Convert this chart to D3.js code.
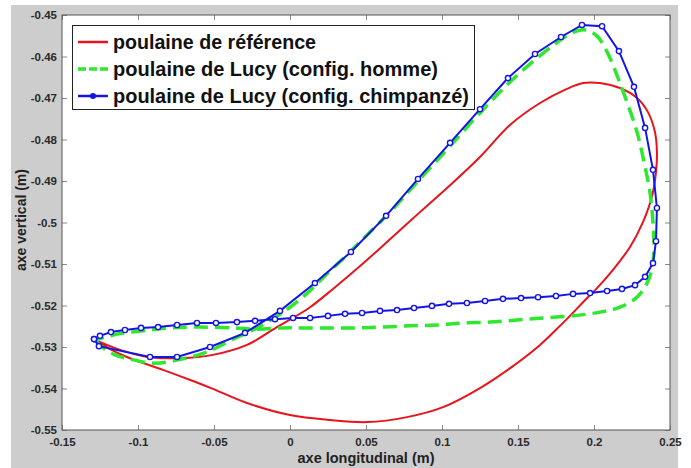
<!DOCTYPE html>
<html><head><meta charset="utf-8">
<script src="https://cdn.jsdelivr.net/npm/d3@7"></script>
<style>body{margin:0;background:#fff}svg{display:block}</style>
</head><body>
<svg id="c" width="691" height="468"></svg>
<script>
const seriesNames = ["poulaine de référence","poulaine de Lucy (config. homme)","poulaine de Lucy (config. chimpanzé)"];
const xTicks = [-0.15,-0.1,-0.05,0,0.05,0.1,0.15,0.2,0.25];
const xTickLabels = ["-0.15","-0.1","-0.05","0","0.05","0.1","0.15","0.2","0.25"];
const yTicks = [-0.45,-0.46,-0.47,-0.48,-0.49,-0.5,-0.51,-0.52,-0.53,-0.54,-0.55];
const yTickLabels = ["-0.45","-0.46","-0.47","-0.48","-0.49","-0.5","-0.51","-0.52","-0.53","-0.54","-0.55"];
const xLabel = "axe longitudinal (m)";
const yLabel = "axe vertical (m)";

// reference trajectory
const refX = [-0.1283,-0.1184,-0.1053,-0.0836,-0.0638,-0.0507,-0.0283,0.0,0.0263,0.0507,0.0770,0.1007,0.1250,0.1467,0.1645,0.1743,0.1842,0.1928,0.2020,0.2125,0.2237,0.2322,0.2382,0.2408,0.2414,0.2401,0.2355,0.2283,0.2171,0.2039,0.1928,0.1822,0.1645,0.1447,0.1250,0.1053,0.0855,0.0638,0.0461,0.0283,0.0125,-0.0086,-0.0283,-0.0507,-0.0724,-0.0941,-0.1118,-0.1283];
const refY = [-0.5283,-0.5305,-0.5327,-0.5355,-0.5382,-0.5401,-0.5435,-0.5464,-0.5476,-0.5481,-0.5469,-0.5445,-0.5399,-0.5346,-0.5295,-0.5261,-0.5225,-0.5192,-0.5158,-0.5114,-0.5059,-0.4999,-0.4936,-0.4878,-0.4830,-0.4782,-0.4734,-0.4700,-0.4676,-0.4664,-0.4664,-0.4678,-0.4712,-0.4765,-0.4842,-0.4910,-0.4975,-0.5047,-0.5105,-0.5160,-0.5206,-0.5252,-0.5295,-0.5319,-0.5327,-0.5324,-0.5307,-0.5283];

// Lucy, human configuration
const homX = [-0.1283,-0.1230,-0.1151,-0.1053,-0.0888,-0.0711,-0.0546,-0.0375,-0.0217,-0.0046,0.0099,0.0243,0.0375,0.0507,0.0658,0.0789,0.0921,0.1053,0.1250,0.1434,0.1612,0.1743,0.1855,0.1941,0.2020,0.2086,0.2151,0.2217,0.2283,0.2329,0.2368,0.2388,0.2395,0.2382,0.2349,0.2283,0.2171,0.2039,0.1855,0.1664,0.1493,0.1316,0.1138,0.0967,0.0789,0.0612,0.0441,0.0263,0.0086,-0.0046,-0.0217,-0.0375,-0.0592,-0.0789,-0.0967,-0.1138,-0.1230,-0.1283];
const homY = [-0.5283,-0.5302,-0.5319,-0.5329,-0.5339,-0.5329,-0.5312,-0.5281,-0.5254,-0.5216,-0.5175,-0.5124,-0.5078,-0.5030,-0.4975,-0.4922,-0.4869,-0.4816,-0.4736,-0.4666,-0.4608,-0.4570,-0.4543,-0.4536,-0.4551,-0.4589,-0.4645,-0.4710,-0.4782,-0.4854,-0.4927,-0.4999,-0.5061,-0.5110,-0.5146,-0.5180,-0.5204,-0.5216,-0.5225,-0.5230,-0.5235,-0.5240,-0.5242,-0.5247,-0.5249,-0.5252,-0.5254,-0.5254,-0.5254,-0.5254,-0.5257,-0.5254,-0.5252,-0.5254,-0.5261,-0.5269,-0.5278,-0.5283];

// Lucy, chimpanzee configuration
const chiX = [-0.1289,-0.1257,-0.0921,-0.0743,-0.0526,-0.0296,-0.0066,0.0164,0.0401,0.0632,0.0842,0.1053,0.1250,0.1434,0.1612,0.1783,0.1921,0.2053,0.2164,0.2263,0.2336,0.2388,0.2414,0.2408,0.2388,0.2336,0.2270,0.2184,0.2086,0.1974,0.1862,0.1750,0.1632,0.1520,0.1401,0.1283,0.1164,0.1046,0.0934,0.0816,0.0704,0.0592,0.0474,0.0362,0.0250,0.0132,0.0020,-0.0099,-0.0230,-0.0349,-0.0487,-0.0612,-0.0743,-0.0868,-0.0980,-0.1086,-0.1178,-0.1250,-0.1289];
const chiY = [-0.5281,-0.5298,-0.5324,-0.5324,-0.5300,-0.5266,-0.5213,-0.5146,-0.5071,-0.4984,-0.4895,-0.4808,-0.4727,-0.4652,-0.4594,-0.4553,-0.4524,-0.4527,-0.4587,-0.4673,-0.4772,-0.4873,-0.4965,-0.5045,-0.5098,-0.5131,-0.5151,-0.5160,-0.5165,-0.5170,-0.5172,-0.5177,-0.5180,-0.5182,-0.5184,-0.5189,-0.5194,-0.5196,-0.5201,-0.5206,-0.5211,-0.5213,-0.5218,-0.5220,-0.5225,-0.5230,-0.5230,-0.5233,-0.5237,-0.5240,-0.5242,-0.5242,-0.5247,-0.5252,-0.5254,-0.5259,-0.5264,-0.5273,-0.5281];

const colors = {red:"#e8141c", green:"#2ee82e", blue:"#1414e6"};
const svg = d3.select("#c");
const L=62,R=670,T=15,B=430;
const x = d3.scaleLinear().domain([-0.15,0.25]).range([L,R]);
const y = d3.scaleLinear().domain([-0.55,-0.45]).range([B,T]);

svg.append("rect").attr("x",11).attr("y",5).attr("width",667).attr("height",463).attr("fill","#cdcdcd");
svg.append("rect").attr("x",L).attr("y",T).attr("width",R-L).attr("height",B-T).attr("fill","#fff");

const fmtX = d => xTickLabels[xTicks.indexOf(d)];
const fmtY = d => yTickLabels[yTicks.indexOf(d)];
const font = "'Liberation Sans', Arial, sans-serif";

const gx = svg.append("g").attr("transform",`translate(0,${B})`)
  .call(d3.axisBottom(x).tickValues(xTicks).tickFormat(fmtX).tickSizeInner(-5).tickSizeOuter(0).tickPadding(6));
const gxt = svg.append("g").attr("transform",`translate(0,${T})`)
  .call(d3.axisTop(x).tickValues(xTicks).tickFormat("").tickSizeInner(-5).tickSizeOuter(0));
const gy = svg.append("g").attr("transform",`translate(${L},0)`)
  .call(d3.axisLeft(y).tickValues(yTicks).tickFormat(fmtY).tickSizeInner(-5).tickSizeOuter(0).tickPadding(4));
const gyr = svg.append("g").attr("transform",`translate(${R},0)`)
  .call(d3.axisRight(y).tickValues(yTicks).tickFormat("").tickSizeInner(-5).tickSizeOuter(0));
[gx,gxt,gy,gyr].forEach(g=>{
  g.select(".domain").remove();
  g.selectAll(".tick line").attr("stroke","#8a8a8a");
  g.selectAll(".tick text").attr("font-family",font).attr("font-size",11.5).attr("font-weight","bold").attr("fill","#2a2a2a");
});
gx.selectAll(".tick text").attr("dy","0.9em");
gy.selectAll(".tick text").attr("dx","-1");

const zip = (a,b)=>a.map((v,i)=>[v,b[i]]);
const smooth = d3.line().x(d=>x(d[0])).y(d=>y(d[1])).curve(d3.curveCatmullRom);
const straight = d3.line().x(d=>x(d[0])).y(d=>y(d[1]));
const plot = svg.append("g");
plot.append("path").attr("d",smooth(zip(refX,refY))).attr("fill","none").attr("stroke",colors.red).attr("stroke-width",2);
plot.append("path").attr("d",smooth(zip(homX,homY))).attr("fill","none").attr("stroke",colors.green).attr("stroke-width",3.5).attr("stroke-dasharray","14,7");
plot.append("path").attr("d",straight(zip(chiX,chiY))).attr("fill","none").attr("stroke",colors.blue).attr("stroke-width",2);
plot.selectAll("circle.m").data(zip(chiX,chiY)).join("circle").attr("class","m")
  .attr("cx",d=>x(d[0])).attr("cy",d=>y(d[1])).attr("r",2.6).attr("fill","#fff").attr("stroke",colors.blue).attr("stroke-width",1.4);

svg.append("rect").attr("x",L).attr("y",T).attr("width",R-L).attr("height",B-T).attr("fill","none").attr("stroke","#555").attr("stroke-width",1);

// legend
const lg = svg.append("g");
lg.append("rect").attr("x",72.5).attr("y",25.5).attr("width",402).attr("height",84).attr("fill","#fff").attr("stroke","#222").attr("stroke-width",1);
const rows=[42,69,96];
const widths=[203,325,356];
const lcol=[colors.red,colors.green,colors.blue];
rows.forEach((ry,i)=>{
  const ln = lg.append("line").attr("x1",78).attr("x2",108).attr("y1",ry).attr("y2",ry).attr("stroke",lcol[i]).attr("stroke-width",i==1?3.5:2.5);
  if(i==1) ln.attr("stroke-dasharray","8,3");
  if(i==2) lg.append("circle").attr("cx",93).attr("cy",ry).attr("r",3).attr("fill",colors.blue);
  lg.append("text").attr("x",113).attr("y",ry).attr("dy","0.35em").attr("font-family",font).attr("font-weight","bold").attr("font-size",19.5)
    .attr("textLength",widths[i]).attr("lengthAdjust","spacingAndGlyphs").attr("fill","#111").text(seriesNames[i]);
});

svg.append("text").attr("x",366).attr("y",463).attr("text-anchor","middle").attr("font-family",font).attr("font-weight","bold").attr("font-size",14.5).attr("fill","#222").text(xLabel);
svg.append("text").attr("transform","translate(26,220) rotate(-90)").attr("text-anchor","middle").attr("font-family",font).attr("font-weight","bold").attr("font-size",14).attr("fill","#222").text(yLabel);
</script>
</body></html>
